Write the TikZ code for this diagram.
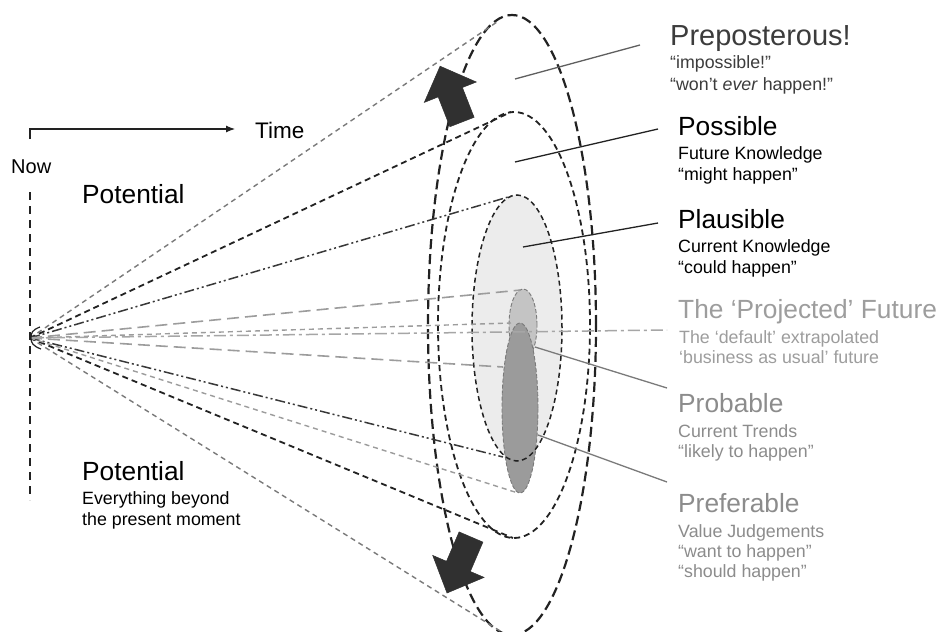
\documentclass[tikz,border=0pt]{standalone}
\usepackage{fontspec}
\setmainfont{Liberation Sans}
\usetikzlibrary{shapes.geometric,arrows.meta}
\definecolor{dk}{HTML}{222222}
\definecolor{gr}{HTML}{7a7a7a}
\definecolor{lgr}{HTML}{9c9c9c}
\definecolor{txtgr}{HTML}{8c8c8c}
\definecolor{txtpre}{HTML}{3c3c3c}
\definecolor{fillA}{HTML}{ececec}
\definecolor{fillB}{HTML}{c4c4c4}
\definecolor{fillC}{HTML}{9b9b9b}
\definecolor{arr}{HTML}{303030}
\begin{document}
\begin{tikzpicture}[x=1pt,y=-1pt,
  bigtxt/.style={font=\fontsize{26.3}{28}\selectfont, anchor=base west, inner sep=0pt},
  hugetxt/.style={font=\fontsize{29}{30}\selectfont, anchor=base west, inner sep=0pt},
  smalltxt/.style={font=\fontsize{17.8}{20}\selectfont, anchor=base west, inner sep=0pt},
  ell/.style={ellipse, inner sep=0pt},
  outerline/.style={draw=dk, line width=2.2pt, dash pattern=on 10pt off 5pt},
  possline/.style={draw=dk, line width=1.8pt, dash pattern=on 6pt off 4pt},
  plausline/.style={draw=dk, line width=1.5pt, dash pattern=on 5pt off 3.5pt},
  smallell/.style={draw=gr, line width=0.9pt, dash pattern=on 4pt off 2pt},
  rayouter/.style={draw=gr, line width=1.4pt, dash pattern=on 5pt off 4pt},
  raypos/.style={draw=dk, line width=1.8pt, dash pattern=on 6pt off 4pt},
  raypla/.style={draw=dk!90, line width=1.5pt, dash pattern=on 10pt off 3pt on 2pt off 3pt on 2pt off 3pt},
  rayproj/.style={draw=lgr, line width=1.6pt, dash pattern=on 12pt off 6pt},
  rayprob/.style={draw=lgr, line width=1.4pt, dash pattern=on 5pt off 4pt},
  raydd/.style={draw=lgr!90, line width=1.5pt, dash pattern=on 12pt off 4pt on 3pt off 4pt},
  lbl/.style={draw=dk, line width=1.3pt},
  lblgr/.style={draw=gr, line width=1.3pt},
  bigarrow/.style={fill=arr, draw=arr, line width=0.5pt, line join=miter}
]
\useasboundingbox[fill=white] (0,0) rectangle (940,632);

% filled ellipses
\node[ell, fill=fillA, minimum width=90pt, minimum height=266pt] (plaus) at (517,328) {};
\node[ell, fill=fillB, smallell, minimum width=28pt, minimum height=72pt] (proj) at (523,325) {};
\node[ell, fill=fillC, smallell, minimum width=36pt, minimum height=170pt] (prob) at (520,408) {};
\node[ell, plausline, minimum width=90pt, minimum height=266pt] (plausB) at (517,328) {};

% outer ellipses
\node[ell, outerline, minimum width=168pt, minimum height=620pt] (outer) at (512,325) {};
\node[ell, possline, minimum width=152pt, minimum height=426pt] (poss) at (514,325) {};

% apex and ray ends
\coordinate (apex) at (30,338);
\coordinate (oT) at (497,22);
\coordinate (pT) at (511,112);
\coordinate (lT) at (515,195);
\coordinate (jT) at (521,290);
\coordinate (bT) at (511,323);
\coordinate (jM) at (667,330);
\coordinate (jB) at (503,367);
\coordinate (lB) at (503,457);
\coordinate (bB) at (518,493);
\coordinate (pB) at (513,538);
\coordinate (oB) at (505,634);

\draw[rayouter] (apex) -- (oT);
\draw[rayouter] (apex) -- (oB);
\draw[raypos] (apex) -- (pT);
\draw[raypos] (apex) -- (pB);
\draw[raypla] (apex) -- (lT);
\draw[raypla] (apex) -- (lB);
\draw[rayproj] (apex) -- (jT);
\draw[rayproj] (apex) -- (jB);
\draw[rayprob] (apex) -- (bT);
\draw[rayprob] (apex) -- (bB);
\draw[raydd] (apex) -- (jM);

% small brace at apex
\draw[dk, line width=1.2pt] (40,327) .. controls (32,330) and (31,333) .. (31,338);
\draw[dk, line width=1.2pt] (31,338) .. controls (31,343) and (33,346) .. (41,349);

% Now line and time arrow
\coordinate (nowTop) at (30,192);
\coordinate (nowBot) at (30,500);
\draw[dk, line width=1.3pt, dash pattern=on 8pt off 6pt] (nowTop) -- (nowBot);
\coordinate (tStart) at (30,139);
\coordinate (tEnd) at (235,129);
\draw[dk, line width=1.1pt, -{Latex[length=9pt,width=7pt]}] (tStart) |- (tEnd);

% big arrows
\draw[bigarrow] (449.9,126.7) -- (438.2,96.9) -- (424.3,102.4) -- (440.1,66.2) -- (476.3,82.0) -- (462.4,87.5) -- (474.1,117.3) -- cycle;
\draw[bigarrow] (459.1,531.9) -- (446.5,561.3) -- (432.7,555.4) -- (447,593) -- (484.1,577.4) -- (470.3,571.5) -- (482.9,542.1) -- cycle;

% label lines
\coordinate (a1) at (515,79);  \coordinate (b1) at (640,45);
\coordinate (a2) at (515,162); \coordinate (b2) at (658,129);
\coordinate (a3) at (523,247); \coordinate (b3) at (658,223);
\coordinate (a4) at (535,347); \coordinate (b4) at (667,388);
\coordinate (a5) at (538,435); \coordinate (b5) at (667,482);
\draw[lblgr, draw=gr!120] (a1) -- (b1);
\draw[lbl] (a2) -- (b2);
\draw[lbl] (a3) -- (b3);
\draw[lblgr] (a4) -- (b4);
\draw[lblgr] (a5) -- (b5);

% left texts
\node[smalltxt, font=\fontsize{20}{22}\selectfont] (now) at (11,173) {Now};
\node[smalltxt, font=\fontsize{22.5}{24}\selectfont] (time) at (255,138) {Time};
\node[bigtxt] (pot1) at (82,203) {Potential};
\node[bigtxt] (pot2) at (82,480) {Potential};
\node[smalltxt] (pot2a) at (82,504) {Everything beyond};
\node[smalltxt] (pot2b) at (82,525) {the present moment};

% right texts
\node[hugetxt, text=txtpre] (prep) at (670,45) {Preposterous!};
\node[smalltxt, text=txtpre] (prep1) at (670,68) {“impossible!”};
\node[smalltxt, text=txtpre] (prep2) at (670,90) {“won’t \textit{ever} happen!”};

\node[bigtxt] (pos) at (678,135) {Possible};
\node[smalltxt] (pos1) at (678,159) {Future Knowledge};
\node[smalltxt] (pos2) at (678,180) {“might happen”};

\node[bigtxt] (pla) at (678,228) {Plausible};
\node[smalltxt] (pla1) at (678,252) {Current Knowledge};
\node[smalltxt] (pla2) at (678,273) {“could happen”};

\node[bigtxt, text=txtgr!85] (pro) at (678,318) {The ‘Projected’ Future};
\node[smalltxt, text=txtgr!85] (pro1) at (679,343) {The ‘default’ extrapolated};
\node[smalltxt, text=txtgr!85] (pro2) at (679,363) {‘business as usual’ future};

\node[bigtxt, text=txtgr] (prb) at (678,412) {Probable};
\node[smalltxt, text=txtgr] (prb1) at (678,437) {Current Trends};
\node[smalltxt, text=txtgr] (prb2) at (678,457) {“likely to happen”};

\node[bigtxt, text=txtgr] (prf) at (678,512) {Preferable};
\node[smalltxt, text=txtgr] (prf1) at (678,537) {Value Judgements};
\node[smalltxt, text=txtgr] (prf2) at (678,557) {“want to happen”};
\node[smalltxt, text=txtgr] (prf3) at (678,577) {“should happen”};
\end{tikzpicture}
\end{document}
